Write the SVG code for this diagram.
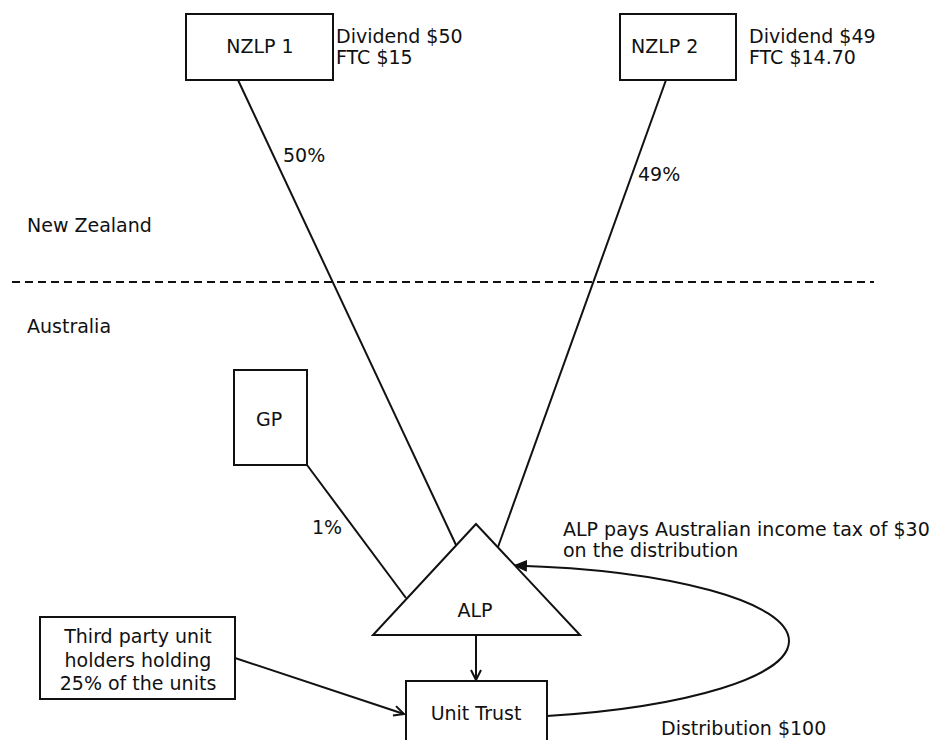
<svg xmlns="http://www.w3.org/2000/svg" width="943" height="740" viewBox="0 0 943 740">
<defs>
<style>
text{font-family:"DejaVu Sans","Liberation Sans",sans-serif;font-size:19px;fill:#111}
.c{text-anchor:middle}
.box{fill:#fff;stroke:#111;stroke-width:2}
.ln{fill:none;stroke:#111;stroke-width:2}
</style>
<marker id="open" viewBox="0 0 12 12" refX="11" refY="6" markerWidth="12" markerHeight="12" markerUnits="userSpaceOnUse" orient="auto">
<path d="M1,1 L11,6 L1,11" fill="none" stroke="#111" stroke-width="2"/>
</marker>
<marker id="fill" viewBox="0 0 14 12" refX="13" refY="6" markerWidth="14" markerHeight="12" markerUnits="userSpaceOnUse" orient="auto">
<path d="M0,0 L14,6 L0,12 Z" fill="#111"/>
</marker>
</defs>
<rect width="943" height="740" fill="#fff"/>

<g id="connectors">
<line class="ln" x1="12" y1="282" x2="874" y2="282" stroke-dasharray="8 5"/>
<line class="ln" x1="238" y1="80" x2="456" y2="545"/>
<line class="ln" x1="666" y1="80" x2="498" y2="547"/>
<line class="ln" x1="307" y1="465" x2="406" y2="598"/>
<line class="ln" x1="476" y1="635" x2="476" y2="680" marker-end="url(#open)"/>
<line class="ln" x1="235" y1="658" x2="404" y2="714" marker-end="url(#open)"/>
<path class="ln" d="M547,716 C688,707 789,676.5 789,641 C789,602 671,570 514,565.5" marker-end="url(#fill)"/>
</g>

<g id="nzlp1">
<rect class="box" x="186" y="14" width="147" height="66"/>
<text class="c" x="260" y="53">NZLP 1</text>
<text x="336" y="43">Dividend $50</text>
<text x="336" y="64">FTC $15</text>
</g>

<g id="nzlp2">
<rect class="box" x="620" y="14" width="116" height="66"/>
<text x="631" y="53">NZLP 2</text>
<text x="749" y="43">Dividend $49</text>
<text x="749" y="64">FTC $14.70</text>
</g>

<g id="gp">
<rect class="box" x="234" y="370" width="73" height="95"/>
<text class="c" x="269" y="426">GP</text>
</g>

<g id="alp">
<polygon class="box" points="476,524 373,635 580,635"/>
<text class="c" x="475" y="617">ALP</text>
</g>

<g id="unit-trust">
<rect class="box" x="406" y="681" width="141" height="70"/>
<text class="c" x="476" y="720">Unit Trust</text>
</g>

<g id="third-party">
<rect class="box" x="40" y="617" width="195" height="82"/>
<text class="c" x="138" y="643">Third party unit</text>
<text class="c" x="138" y="667">holders holding</text>
<text class="c" x="138" y="690">25% of the units</text>
</g>

<g id="labels">
<text x="283" y="162">50%</text>
<text x="638" y="181">49%</text>
<text x="312" y="534">1%</text>
<text x="27" y="232">New Zealand</text>
<text x="27" y="333">Australia</text>
<text x="563" y="536">ALP pays Australian income tax of $30</text>
<text x="563" y="557">on the distribution</text>
<text x="661" y="735">Distribution $100</text>
</g>
</svg>
